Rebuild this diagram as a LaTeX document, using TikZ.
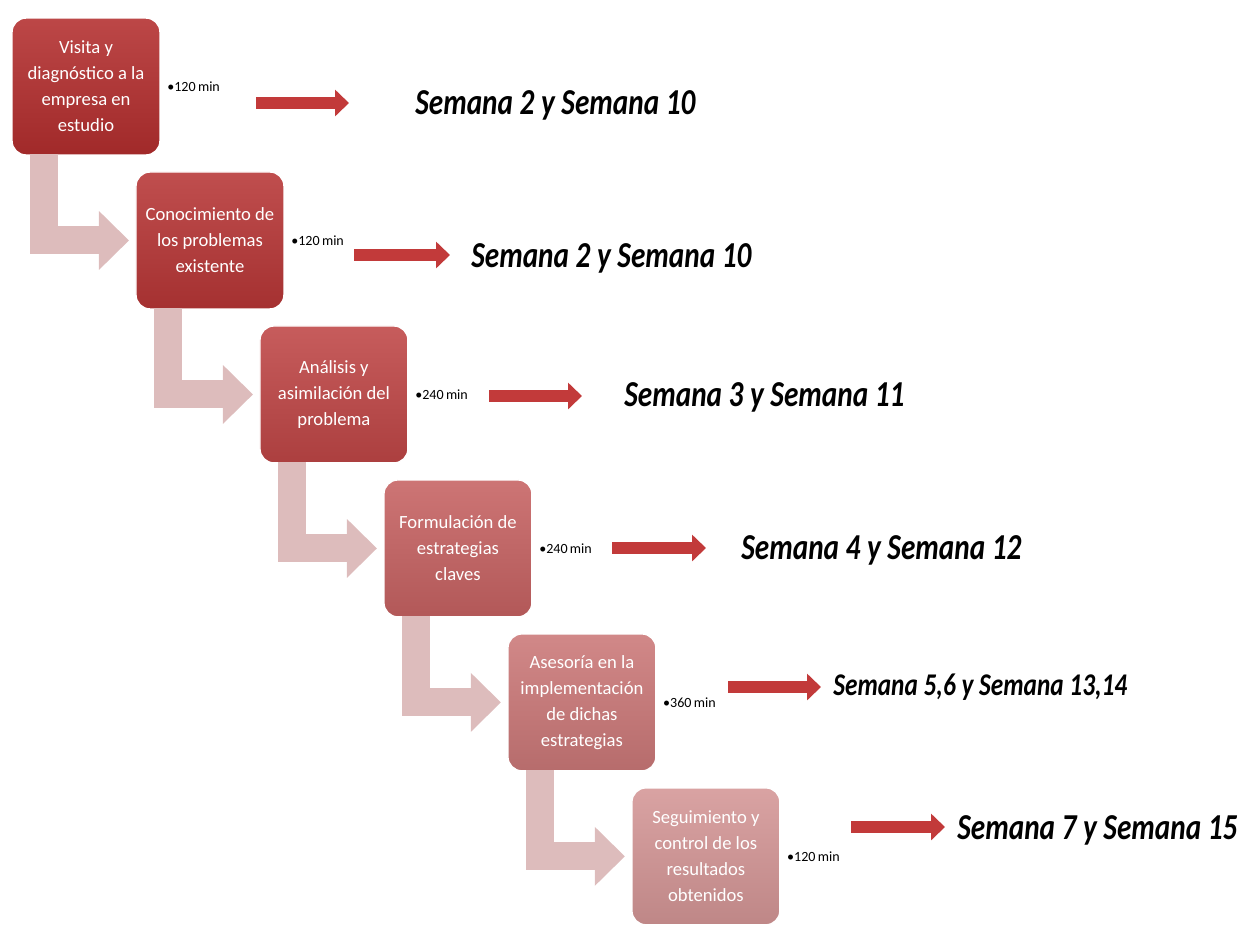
\documentclass[tikz,border=0pt]{standalone}
\usepackage{fontspec}
\setmainfont{Carlito}
\newfontfamily\semfont{Carlito}[FakeStretch=0.8]
\usepackage{tikz}
\usetikzlibrary{positioning,calc,arrows.meta}
\definecolor{rojoa}{HTML}{B32E2E}
\definecolor{rojob}{HTML}{B73636}
\definecolor{rojoc}{HTML}{BF4646}
\definecolor{rojod}{HTML}{C66262}
\definecolor{rojoe}{HTML}{CB7878}
\definecolor{rojof}{HTML}{D49696}
\definecolor{codorosa}{HTML}{DDBCBC}
\definecolor{flecharoja}{HTML}{C23A3A}
\newcommand{\semana}[1]{\semfont\bfseries\itshape #1}

\begin{document}
\begin{tikzpicture}[x=0.02cm,y=-0.02cm,
        every node/.style={align=center},
        caja/.style={rounded corners=8pt,minimum width=2.96cm,minimum height=2.74cm,outer sep=0pt,
          top color=#1!88!white,bottom color=#1!90!black,draw=white,line width=0.8pt,
          text=white,font=\fontsize{10.6}{14.8}\selectfont},
        codo/.style={draw=codorosa,line width=0.56cm,shorten >=0.14cm,
          -{Triangle[length=0.6cm,width=1.14cm]}},
        flecha/.style={draw=flecharoja,line width=0.24cm,
          -{Triangle[length=0.28cm,width=0.52cm]}},
        tiempo/.style={anchor=west,inner sep=0pt,font=\fontsize{8}{10}\selectfont},
        sem/.style={anchor=west,inner sep=0pt,font=\fontsize{20.8}{24}\selectfont},
      ]
      \useasboundingbox (0,0) rectangle (1244,924);
      \node[caja=rojoa] (a) at (86,86.5) {Visita y\\diagnóstico a la\\empresa en\\estudio};
      \node[caja=rojob, below right=0.34cm and -0.48cm of a] (b) {Conocimiento de\\los problemas\\existente};
      \node[caja=rojoc, below right=0.34cm and -0.48cm of b] (c) {Análisis y\\asimilación del\\problema};
      \node[caja=rojod, below right=0.34cm and -0.48cm of c] (d) {Formulación de\\estrategias\\claves};
      \node[caja=rojoe, below right=0.34cm and -0.48cm of d] (e) {Asesoría en la\\implementación\\de dichas\\estrategias};
      \node[caja=rojof, below right=0.34cm and -0.48cm of e] (f) {Seguimiento y\\control de los\\resultados\\obtenidos};
      % flechas en codo entre cajas
      \foreach \x/\y in {a/b,b/c,c/d,d/e,e/f}
        \draw[codo] ($(\x.south west)+(32,-1)$) |- (\y.west);
      % tiempos
      \foreach \x/\t in {a/120,b/120,c/240,d/240,e/360,f/120}
        \node[tiempo, right=0.14cm of \x] (t\x) {•\t\,min};
      % semanas
      \node[sem] (sa) at (415,105) {\semana{Semana 2 y Semana 10}};
      \node[sem] (sb) at (471,258) {\semana{Semana 2 y Semana 10}};
      \node[sem] (sc) at (624,397) {\semana{Semana 3 y Semana 11}};
      \node[sem] (sd) at (741,550) {\semana{Semana 4 y Semana 12}};
      \node[sem,font=\fontsize{18}{21}\selectfont] (se) at (833,687) {\semana{Semana 5,6 y Semana 13,14}};
      \node[sem] (sf) at (957,830) {\semana{Semana 7 y Semana 15}};
      \coordinate (ia) at (256,103); \coordinate (fa) at (349,103);
      \coordinate (ib) at (354,255); \coordinate (fb) at (450,255);
      \coordinate (ic) at (489,396); \coordinate (fc) at (582,396);
      \coordinate (id) at (612,548); \coordinate (fd) at (706,548);
      \coordinate (ie) at (728,687); \coordinate (fe) at (821,687);
      \coordinate (if) at (851,827); \coordinate (ff) at (945,827);
      \foreach \x in {a,b,c,d,e,f}
        \draw[flecha] (i\x) -- (f\x);
    \end{tikzpicture}
\end{document}
